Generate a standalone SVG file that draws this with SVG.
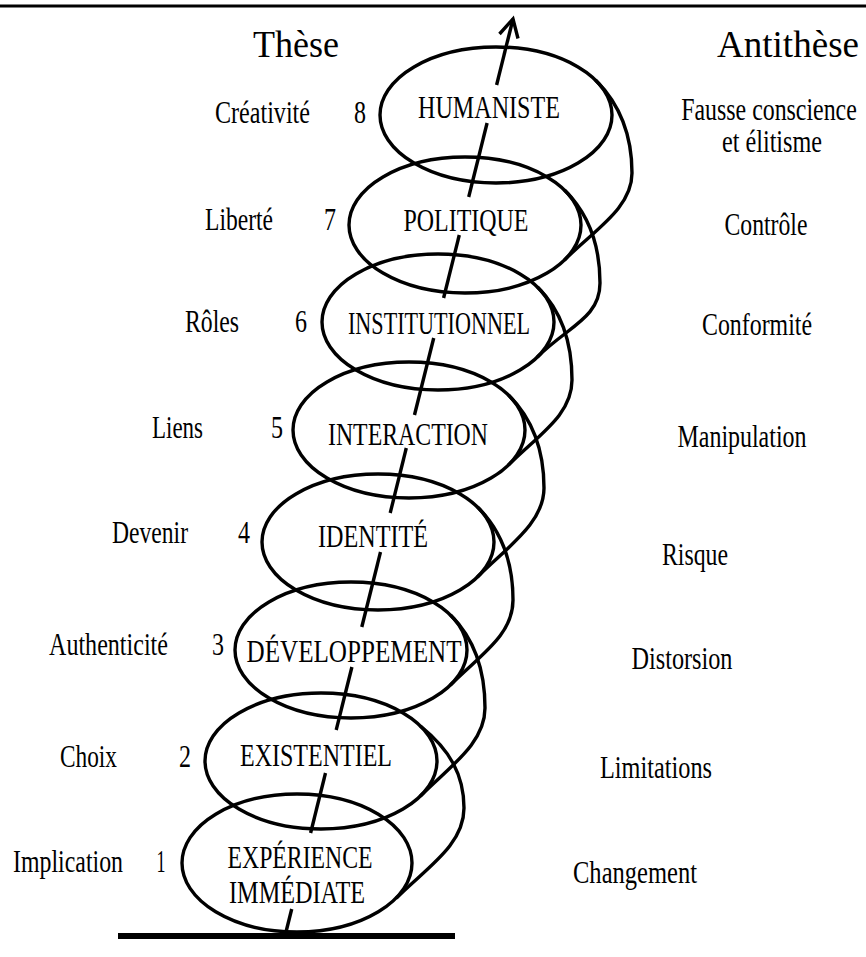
<svg xmlns="http://www.w3.org/2000/svg" width="866" height="957" viewBox="0 0 866 957">
<style>
  .bg{fill:#ffffff}
  .ring{fill:none;stroke:#000;stroke-width:3.4}
  .loop{fill:none;stroke:#000;stroke-width:3.4;stroke-linecap:round}
  .axis{fill:none;stroke:#000;stroke-width:3.4;stroke-linecap:butt}
  .rule{stroke:#000;fill:none}
  text{font-family:"Liberation Serif","Times New Roman",serif;fill:#000}
  .lbl{font-size:31px}
  .node{font-size:31px;text-anchor:middle}
  .num{font-size:31px;text-anchor:middle}
  .anti{font-size:31px;text-anchor:middle}
  .head{font-size:38px;text-anchor:middle}
</style>
<rect class="bg" x="0" y="0" width="866" height="957"/>
<line class="rule" x1="0" y1="6" x2="866" y2="6" stroke-width="3"/>
<line class="rule" x1="118" y1="936" x2="455" y2="936" stroke-width="6"/>

<g id="headers">
  <text class="head" x="296" y="57" textLength="86" lengthAdjust="spacingAndGlyphs">Thèse</text>
  <text class="head" x="788" y="57" textLength="142" lengthAdjust="spacingAndGlyphs">Antithèse</text>
</g>

<g id="connectors">
  <path class="loop" d="M596,80.5 C621,105.5 632,138 632,173 C632,208 595,229.5 565,259.5"/>
  <path class="loop" d="M565,190.5 C590,215.5 600,248 600,283 C600,318 568,326.5 538,356.5"/>
  <path class="loop" d="M538,287.5 C563,312.5 572,345 572,380 C572,415 539,434.5 509,464.5"/>
  <path class="loop" d="M509,395.5 C534,420.5 544,453 544,488 C544,523 508,546.5 478,576.5"/>
  <path class="loop" d="M478,507.5 C503,532.5 513,565 513,600 C513,635 481,654.5 451,684.5"/>
  <path class="loop" d="M451,615.5 C476,640.5 485,673 485,708 C485,743 451,765.5 421,795.5"/>
  <path class="loop" d="M421,726.5 C450,750 464,775 464,808 C464,845 427,867.5 397,897.5"/>
  <g id="axis">
    <line class="axis" x1="286" y1="932" x2="291.7" y2="909"/>
    <line class="axis" x1="310.6" y1="833" x2="325.5" y2="773"/>
    <line class="axis" x1="336.2" y1="730" x2="351.9" y2="667"/>
    <line class="axis" x1="361.8" y1="627" x2="380.5" y2="552"/>
    <line class="axis" x1="390.2" y1="513" x2="406.3" y2="448"/>
    <line class="axis" x1="414.5" y1="415" x2="433.7" y2="338"/>
    <line class="axis" x1="443.6" y1="298" x2="459.3" y2="235"/>
    <line class="axis" x1="468.7" y1="197" x2="487.1" y2="123"/>
    <line class="axis" x1="496.6" y1="85" x2="513" y2="19"/>
    <polyline class="axis" points="499.5,34 513,19 518,38.5" stroke-linejoin="miter"/>
  </g>
</g>

<g id="n8">
  <ellipse class="ring" cx="496" cy="115" rx="116" ry="68"/>
  <text class="node" x="489" y="118" textLength="142" lengthAdjust="spacingAndGlyphs">HUMANISTE</text>
</g>
<g id="n7">
  <ellipse class="ring" cx="465" cy="225" rx="116" ry="68"/>
  <text class="node" x="466" y="231" textLength="125" lengthAdjust="spacingAndGlyphs">POLITIQUE</text>
</g>
<g id="n6">
  <ellipse class="ring" cx="438" cy="322" rx="116" ry="68"/>
  <text class="node" x="439" y="334" textLength="182" lengthAdjust="spacingAndGlyphs">INSTITUTIONNEL</text>
</g>
<g id="n5">
  <ellipse class="ring" cx="409" cy="430" rx="116" ry="68"/>
  <text class="node" x="408" y="445" textLength="160" lengthAdjust="spacingAndGlyphs">INTERACTION</text>
</g>
<g id="n4">
  <ellipse class="ring" cx="378" cy="542" rx="116" ry="68"/>
  <text class="node" x="373" y="547" textLength="110" lengthAdjust="spacingAndGlyphs">IDENTITÉ</text>
</g>
<g id="n3">
  <ellipse class="ring" cx="351" cy="650" rx="116" ry="68"/>
  <text class="node" x="354" y="662" textLength="215" lengthAdjust="spacingAndGlyphs">DÉVELOPPEMENT</text>
</g>
<g id="n2">
  <ellipse class="ring" cx="321" cy="761" rx="116" ry="68"/>
  <text class="node" x="316" y="766" textLength="152" lengthAdjust="spacingAndGlyphs">EXISTENTIEL</text>
</g>
<g id="n1">
  <ellipse class="ring" cx="297" cy="863" rx="115" ry="69"/>
  <text class="node" x="300" y="868" textLength="145" lengthAdjust="spacingAndGlyphs">EXPÉRIENCE</text>
  <text class="node" x="297" y="903" textLength="136" lengthAdjust="spacingAndGlyphs">IMMÉDIATE</text>
</g>

<g id="these">
  <text class="lbl" x="215" y="123" textLength="95" lengthAdjust="spacingAndGlyphs">Créativité</text>
  <text class="lbl" x="205" y="230" textLength="68" lengthAdjust="spacingAndGlyphs">Liberté</text>
  <text class="lbl" x="185" y="332" textLength="54" lengthAdjust="spacingAndGlyphs">Rôles</text>
  <text class="lbl" x="152" y="438" textLength="51" lengthAdjust="spacingAndGlyphs">Liens</text>
  <text class="lbl" x="112" y="543" textLength="76" lengthAdjust="spacingAndGlyphs">Devenir</text>
  <text class="lbl" x="49" y="655" textLength="119" lengthAdjust="spacingAndGlyphs">Authenticité</text>
  <text class="lbl" x="60" y="767" textLength="57" lengthAdjust="spacingAndGlyphs">Choix</text>
  <text class="lbl" x="13" y="872" textLength="110" lengthAdjust="spacingAndGlyphs">Implication</text>
</g>

<g id="numbers">
  <text class="num" x="360" y="123" textLength="12" lengthAdjust="spacingAndGlyphs">8</text>
  <text class="num" x="330" y="230" textLength="12" lengthAdjust="spacingAndGlyphs">7</text>
  <text class="num" x="301" y="332" textLength="12" lengthAdjust="spacingAndGlyphs">6</text>
  <text class="num" x="277" y="438" textLength="12" lengthAdjust="spacingAndGlyphs">5</text>
  <text class="num" x="244" y="543" textLength="12" lengthAdjust="spacingAndGlyphs">4</text>
  <text class="num" x="218" y="655" textLength="12" lengthAdjust="spacingAndGlyphs">3</text>
  <text class="num" x="185" y="767" textLength="12" lengthAdjust="spacingAndGlyphs">2</text>
  <text class="num" x="161" y="872" textLength="9" lengthAdjust="spacingAndGlyphs">1</text>
</g>

<g id="antithese">
  <text class="anti" transform="translate(769 120) scale(0.77 1)">Fausse conscience</text>
  <text class="anti" x="772" y="152" textLength="100" lengthAdjust="spacingAndGlyphs">et élitisme</text>
  <text class="anti" x="766" y="235" textLength="83" lengthAdjust="spacingAndGlyphs">Contrôle</text>
  <text class="anti" x="757" y="335" textLength="110" lengthAdjust="spacingAndGlyphs">Conformité</text>
  <text class="anti" x="742" y="447" textLength="129" lengthAdjust="spacingAndGlyphs">Manipulation</text>
  <text class="anti" x="695" y="565" textLength="66" lengthAdjust="spacingAndGlyphs">Risque</text>
  <text class="anti" x="682" y="669" textLength="101" lengthAdjust="spacingAndGlyphs">Distorsion</text>
  <text class="anti" x="656" y="778" textLength="112" lengthAdjust="spacingAndGlyphs">Limitations</text>
  <text class="anti" x="635" y="883" textLength="124" lengthAdjust="spacingAndGlyphs">Changement</text>
</g>
</svg>
